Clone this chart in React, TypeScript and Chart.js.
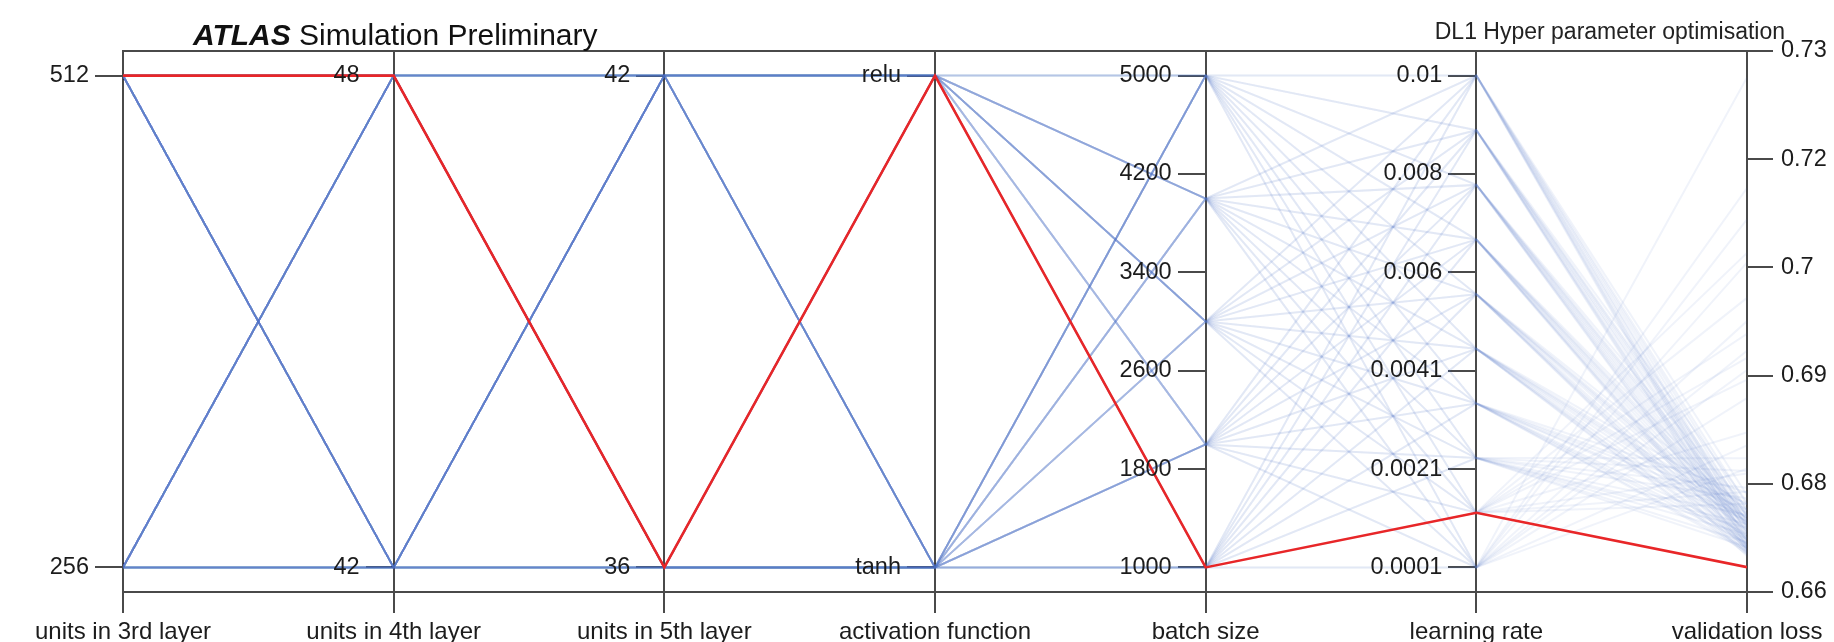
import { useEffect, useRef } from 'react';
import { Chart, registerables } from 'chart.js';

Chart.register(...registerables);

const FONT = '"Liberation Sans", Arial, Helvetica, sans-serif';

// ---------- dimensions (axes) ----------
const dimensionLabels = [
  'units in 3rd layer',
  'units in 4th layer',
  'units in 5th layer',
  'activation function',
  'batch size',
  'learning rate',
  'validation loss',
];

// ---------- trials (one entry per line) ----------
const units3rd = [
  512, 256, 512, 512, 256, 512, 256, 256, 512, 256, 512, 256, 256, 512, 512, 256, 256, 512, 256, 512,
  256, 512, 256, 512, 512, 256, 512, 256, 256, 512, 256, 512, 512, 256, 256, 512, 512, 256, 512, 256,
  512, 512, 256, 256, 512, 256, 512, 512, 256, 256, 512, 256, 512, 256, 512, 512, 256, 256, 512, 256,
  256, 256, 512, 512, 256, 512, 256, 512, 512, 256, 256, 512, 256, 512, 256, 256, 512, 512, 256, 512,
  512, 256, 256, 512, 256, 512, 512, 256, 512, 256, 512, 256, 256, 512, 512, 256, 512, 256, 256, 512,
];

const units4th = [
  48, 42, 48, 42, 48, 42, 42, 48, 42, 48, 48, 42, 48, 42, 42, 48, 42, 48, 48, 42,
  42, 48, 48, 42, 42, 48, 48, 42, 48, 42, 42, 48, 42, 48, 48, 42, 48, 42, 42, 48,
  48, 42, 42, 48, 48, 42, 42, 48, 42, 48, 48, 42, 42, 48, 48, 42, 42, 48, 48, 42,
  42, 48, 42, 48, 42, 48, 48, 42, 48, 42, 42, 48, 48, 42, 42, 48, 48, 42, 42, 48,
  48, 48, 42, 42, 48, 42, 48, 42, 42, 48, 42, 48, 48, 42, 48, 42, 42, 48, 42, 48,
];

const units5th = [
  42, 36, 36, 42, 36, 42, 36, 42, 42, 36, 36, 42, 42, 36, 42, 36, 36, 42, 42, 36,
  36, 42, 42, 36, 42, 36, 42, 36, 36, 42, 42, 36, 36, 42, 36, 42, 42, 36, 36, 42,
  42, 42, 36, 36, 42, 36, 36, 42, 42, 36, 42, 36, 42, 36, 36, 42, 42, 36, 42, 36,
  36, 36, 42, 42, 36, 42, 42, 36, 36, 42, 36, 42, 36, 42, 42, 36, 36, 42, 36, 42,
  42, 36, 42, 36, 36, 42, 36, 42, 42, 36, 42, 36, 36, 42, 42, 36, 42, 36, 42, 36,
];

const activation = [
  'relu', 'tanh', 'relu', 'tanh', 'tanh', 'relu', 'tanh', 'relu', 'relu', 'tanh', 'tanh', 'relu', 'relu', 'tanh', 'tanh', 'relu', 'tanh', 'relu', 'relu', 'tanh',
  'tanh', 'relu', 'tanh', 'tanh', 'relu', 'tanh', 'relu', 'tanh', 'tanh', 'relu', 'tanh', 'relu', 'tanh', 'tanh', 'relu', 'tanh', 'relu', 'tanh', 'tanh', 'relu',
  'relu', 'relu', 'tanh', 'relu', 'tanh', 'relu', 'relu', 'tanh', 'relu', 'tanh', 'relu', 'tanh', 'relu', 'relu', 'tanh', 'relu', 'tanh', 'relu', 'tanh', 'relu',
  'tanh', 'relu', 'relu', 'tanh', 'relu', 'tanh', 'relu', 'relu', 'tanh', 'relu', 'tanh', 'relu', 'relu', 'tanh', 'relu', 'tanh', 'relu', 'tanh', 'relu', 'tanh',
  'tanh', 'tanh', 'relu', 'tanh', 'tanh', 'relu', 'tanh', 'tanh', 'relu', 'tanh', 'tanh', 'tanh', 'relu', 'tanh', 'tanh', 'relu', 'tanh', 'tanh', 'relu', 'tanh',
];

const batchSize = [
  1000, 1000, 1000, 1000, 1000, 1000, 1000, 1000, 1000, 1000, 1000, 1000, 1000, 1000, 1000, 1000, 1000, 1000, 1000, 1000,
  2000, 2000, 2000, 2000, 2000, 2000, 2000, 2000, 2000, 2000, 2000, 2000, 2000, 2000, 2000, 2000, 2000, 2000, 2000, 2000,
  3000, 3000, 3000, 3000, 3000, 3000, 3000, 3000, 3000, 3000, 3000, 3000, 3000, 3000, 3000, 3000, 3000, 3000, 3000, 3000,
  4000, 4000, 4000, 4000, 4000, 4000, 4000, 4000, 4000, 4000, 4000, 4000, 4000, 4000, 4000, 4000, 4000, 4000, 4000, 4000,
  5000, 5000, 5000, 5000, 5000, 5000, 5000, 5000, 5000, 5000, 5000, 5000, 5000, 5000, 5000, 5000, 5000, 5000, 5000, 5000,
];

const learningRate = [
  0.0001, 0.0001, 0.0012, 0.0012, 0.0023, 0.0023, 0.0034, 0.0034, 0.0045, 0.0045, 0.0056, 0.0056, 0.0067, 0.0067, 0.0078, 0.0078, 0.0089, 0.0089, 0.01, 0.01,
  0.0001, 0.0001, 0.0012, 0.0012, 0.0023, 0.0023, 0.0034, 0.0034, 0.0045, 0.0045, 0.0056, 0.0056, 0.0067, 0.0067, 0.0078, 0.0078, 0.0089, 0.0089, 0.01, 0.01,
  0.0001, 0.0001, 0.0012, 0.0012, 0.0023, 0.0023, 0.0034, 0.0034, 0.0045, 0.0045, 0.0056, 0.0056, 0.0067, 0.0067, 0.0078, 0.0078, 0.0089, 0.0089, 0.01, 0.01,
  0.0001, 0.0001, 0.0012, 0.0012, 0.0023, 0.0023, 0.0034, 0.0034, 0.0045, 0.0045, 0.0056, 0.0056, 0.0067, 0.0067, 0.0078, 0.0078, 0.0089, 0.0089, 0.01, 0.01,
  0.0001, 0.0001, 0.0012, 0.0012, 0.0023, 0.0023, 0.0034, 0.0034, 0.0045, 0.0045, 0.0056, 0.0056, 0.0067, 0.0067, 0.0078, 0.0078, 0.0089, 0.0089, 0.01, 0.01,
];

const validationLoss = [
  0.7262, 0.6921, 0.6651, 0.6942, 0.6771, 0.6692, 0.6731, 0.6686, 0.6718, 0.6679, 0.6712, 0.6677, 0.671, 0.6679, 0.6714, 0.6683, 0.672, 0.6686, 0.6729, 0.6691,
  0.7085, 0.6803, 0.7043, 0.6768, 0.6737, 0.6682, 0.6714, 0.6674, 0.6707, 0.667, 0.6703, 0.6668, 0.6701, 0.6672, 0.6704, 0.6673, 0.6709, 0.6677, 0.6714, 0.6681,
  0.7031, 0.6862, 0.6885, 0.673, 0.6787, 0.6705, 0.6744, 0.6693, 0.6729, 0.6688, 0.6722, 0.6685, 0.6718, 0.6687, 0.6724, 0.669, 0.6732, 0.6695, 0.6741, 0.67,
  0.6958, 0.6774, 0.6987, 0.6819, 0.6716, 0.6676, 0.6709, 0.6671, 0.6699, 0.6667, 0.6696, 0.6665, 0.6694, 0.6668, 0.6697, 0.667, 0.6701, 0.6673, 0.6705, 0.6676,
  0.7124, 0.6897, 0.6912, 0.6745, 0.675, 0.67, 0.6723, 0.6681, 0.6712, 0.6676, 0.6707, 0.6673, 0.6705, 0.6675, 0.6709, 0.6678, 0.6715, 0.6682, 0.6722, 0.6686,
];

// ---------- axis ranges & tick labels ----------
const activationCategories = ['tanh', 'relu'];
const units3rdRange = [256, 512];
const units4thRange = [42, 48];
const units5thRange = [36, 42];
const activationRange = [0, 1];
const batchRange = [1000, 5000];
const learningRateRange = [0.0001, 0.01];
const validationRange = [0.662, 0.7295];

const units3rdTicks = [256, 512];
const units4thTicks = [42, 48];
const units5thTicks = [36, 42];
const activationTicks = [0, 1];
const batchTicks = [1000, 1800, 2600, 3400, 4200, 5000];
const learningRateTicks = [0.0001, 0.00208, 0.00406, 0.00604, 0.00802, 0.01];
const learningRateTickLabels = ['0.0001', '0.0021', '0.0041', '0.006', '0.008', '0.01'];
const validationTicks = [0.662, 0.6755, 0.689, 0.7025, 0.716, 0.7295];
const validationTickLabels = ['0.66', '0.68', '0.69', '0.7', '0.72', '0.73'];

const PAD = 0.05; // vertical margin of the inner axes, in normalised units
const TICK_LEN = 27;
const TICK_PAD = 7;
const LINE_BLUE = 'rgba(82, 120, 198, 0.085)';
const LINE_RED = 'rgb(232, 38, 40)';
const AXIS_COLOR = '#4a4a4a';
const TEXT_COLOR = '#1c1c1c';

const innerAxes = [
  { id: 'y0', range: units3rdRange, ticks: units3rdTicks, labels: units3rdTicks.map(String) },
  { id: 'y1', range: units4thRange, ticks: units4thTicks, labels: units4thTicks.map(String) },
  { id: 'y2', range: units5thRange, ticks: units5thTicks, labels: units5thTicks.map(String) },
  { id: 'y3', range: activationRange, ticks: activationTicks, labels: activationTicks.map((v) => activationCategories[v]) },
  { id: 'y4', range: batchRange, ticks: batchTicks, labels: batchTicks.map(String) },
  { id: 'y5', range: learningRateRange, ticks: learningRateTicks, labels: learningRateTickLabels },
];

function norm(v: number, r: number[]) {
  return (v - r[0]) / (r[1] - r[0]);
}

function innerAxisOptions(i: number, range: number[], ticks: number[]) {
  const span = range[1] - range[0];
  return {
    type: 'linear',
    axis: 'y',
    position: { x: i },
    z: 1,
    min: range[0] - PAD * span,
    max: range[1] + PAD * span,
    afterBuildTicks: (s: any) => {
      s.ticks = ticks.map((v) => ({ value: v }));
    },
    ticks: { display: false, autoSkip: false },
    grid: { drawOnChartArea: false, drawTicks: true, tickLength: TICK_LEN, color: AXIS_COLOR, lineWidth: 2 },
    border: { display: true, color: AXIS_COLOR, width: 2 },
  };
}

// tick labels of the inner (data-positioned) axes, placed left of their tick marks
const innerLabelsPlugin = {
  id: 'innerAxisLabels',
  afterDraw(chart: any) {
    const ctx = chart.ctx;
    const xs = chart.scales.x;
    ctx.save();
    ctx.fillStyle = TEXT_COLOR;
    ctx.font = `23.5px ${FONT}`;
    ctx.textAlign = 'right';
    ctx.textBaseline = 'middle';
    innerAxes.forEach((a, i) => {
      const s = chart.scales[a.id];
      const px = xs.getPixelForValue(i) - TICK_LEN - TICK_PAD;
      s.ticks.forEach((t: any, k: number) => {
        ctx.fillText(a.labels[k], px, s.getPixelForValue(t.value));
      });
    });
    ctx.restore();
  },
};

const titlePlugin = {
  id: 'atlasTitle',
  afterDraw(chart: any) {
    const ctx = chart.ctx;
    ctx.save();
    ctx.fillStyle = '#111';
    ctx.textBaseline = 'alphabetic';
    ctx.textAlign = 'left';
    ctx.font = `italic bold 30px ${FONT}`;
    ctx.fillText('ATLAS', 193, 45);
    const w = ctx.measureText('ATLAS ').width;
    ctx.font = `30px ${FONT}`;
    ctx.fillText('Simulation Preliminary', 193 + w, 45);
    ctx.font = `23px ${FONT}`;
    ctx.textAlign = 'right';
    ctx.fillStyle = '#222';
    ctx.fillText('DL1 Hyper parameter optimisation', 1785, 39);
    ctx.restore();
  },
};

export default function App() {
  const canvasRef = useRef<HTMLCanvasElement | null>(null);

  useEffect(() => {
    const canvas = canvasRef.current;
    if (!canvas) return;

    const best = validationLoss.indexOf(Math.min(...validationLoss));
    const datasets = batchSize.map((_, t) => {
      const ys = [
        norm(units3rd[t], units3rdRange),
        norm(units4th[t], units4thRange),
        norm(units5th[t], units5thRange),
        norm(activationCategories.indexOf(activation[t]), activationRange),
        norm(batchSize[t], batchRange),
        norm(learningRate[t], learningRateRange),
        -PAD + (1 + 2 * PAD) * norm(validationLoss[t], validationRange),
      ];
      const isBest = t === best;
      return {
        data: ys.map((y, i) => ({ x: i, y })),
        borderColor: isBest ? LINE_RED : LINE_BLUE,
        borderWidth: isBest ? 2.6 : 2,
        order: isBest ? 0 : 1,
        pointRadius: 0,
        tension: 0,
        fill: false,
        xAxisID: 'x',
        yAxisID: 'yn',
      };
    });

    const scales: any = {
      x: {
        type: 'linear',
        position: 'bottom',
        z: 1,
        min: 0,
        max: 6,
        afterFit: (s: any) => {
          s.height = 50;
        },
        ticks: {
          stepSize: 1,
          autoSkip: false,
          maxRotation: 0,
          padding: 5,
          color: TEXT_COLOR,
          font: { size: 24, family: FONT },
          callback: (v: any) => dimensionLabels[Number(v)],
        },
        grid: { drawOnChartArea: false, drawTicks: true, tickLength: 21, color: AXIS_COLOR, lineWidth: 2 },
        border: { display: true, color: AXIS_COLOR, width: 2 },
      },
      x2: {
        type: 'linear',
        position: 'top',
        z: 1,
        min: 0,
        max: 6,
        afterFit: (s: any) => {
          s.height = 0;
        },
        ticks: { display: false },
        grid: { display: false, drawTicks: false },
        border: { display: true, color: AXIS_COLOR, width: 2 },
      },
      yn: { type: 'linear', display: false, min: -PAD, max: 1 + PAD },
      yv: {
        type: 'linear',
        axis: 'y',
        position: 'right',
        z: 1,
        min: validationRange[0],
        max: validationRange[1],
        afterFit: (s: any) => {
          s.width = 87;
        },
        afterBuildTicks: (s: any) => {
          s.ticks = validationTicks.map((v) => ({ value: v }));
        },
        ticks: {
          autoSkip: false,
          padding: 8,
          color: TEXT_COLOR,
          font: { size: 23.5, family: FONT },
          callback: (_v: any, idx: number) => validationTickLabels[idx],
        },
        grid: { drawOnChartArea: false, drawTicks: true, tickLength: 26, color: AXIS_COLOR, lineWidth: 2 },
        border: { display: true, color: AXIS_COLOR, width: 2 },
      },
    };
    innerAxes.forEach((a, i) => {
      scales[a.id] = innerAxisOptions(i, a.range, a.ticks);
    });

    const chart = new Chart(canvas, {
      type: 'line',
      data: { datasets },
      plugins: [titlePlugin, innerLabelsPlugin],
      options: {
        responsive: false,
        animation: false,
        events: [],
        layout: { padding: { left: 123, top: 51, right: 0, bottom: 0 } },
        plugins: { legend: { display: false }, tooltip: { enabled: false }, title: { display: false } },
        scales,
      } as any,
    });

    return () => chart.destroy();
  }, []);

  return (
    <div style={{ position: 'fixed', left: 0, top: 0, width: 1834, height: 642, background: '#fff' }}>
      <canvas ref={canvasRef} width={1834} height={642} style={{ display: 'block' }} />
    </div>
  );
}
